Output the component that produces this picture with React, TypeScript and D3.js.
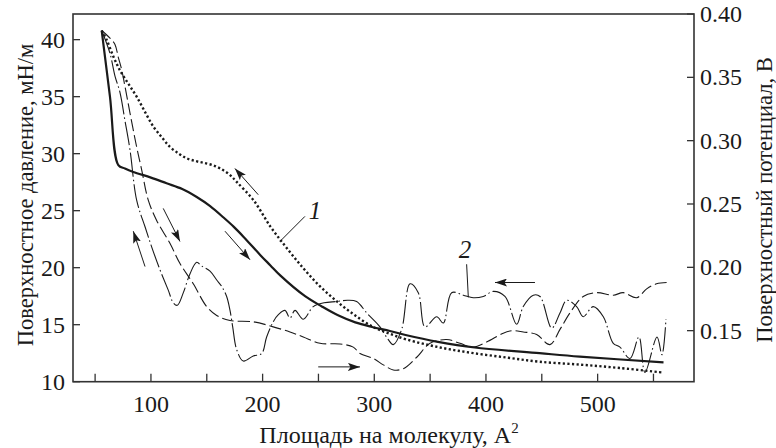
import React from "react";
import * as d3 from "d3";

const W = 776;
const H = 448;
const FONT = '"Liberation Serif", serif';

// axis ticks
const areaTicks = [50, 100, 150, 200, 250, 300, 350, 400, 450, 500, 550];
const areaLabels = [100, 200, 300, 400, 500];
const pressureTicks = [10, 15, 20, 25, 30, 35, 40];
const potentialTicks = [0.15, 0.2, 0.25, 0.3, 0.35, 0.4];

// curve 1, compression isotherm (solid), mN/m
const compArea = [55.9, 63.3, 70.8, 76.7, 84.2, 100, 114, 128, 141, 153, 165, 174, 183, 198, 207, 216, 238, 253, 268, 283, 298, 314, 328, 357, 390, 448, 484, 559];
const compPressure = [40.8, 35.0, 29.0, 28.7, 28.4, 27.9, 27.4, 26.9, 26.2, 25.4, 24.4, 23.6, 22.7, 21.1, 20.2, 19.3, 17.5, 16.6, 15.8, 15.2, 14.8, 14.45, 14.1, 13.5, 13.0, 12.5, 12.2, 11.7];

// curve 1, expansion isotherm (dotted), mN/m
const expArea = [55.9, 60.3, 66, 72.3, 80, 87.2, 95, 102, 110, 117, 125, 132, 140, 147, 155, 162, 170, 177, 192, 207, 221, 236, 251, 267, 283, 299, 314, 329, 359, 389, 420, 448, 484, 520, 559];
const expPressure = [40.8, 40.0, 38.6, 37.3, 36.1, 35.0, 33.6, 32.4, 31.4, 30.6, 30.0, 29.6, 29.35, 29.2, 29.0, 28.7, 28.2, 27.5, 25.9, 23.6, 21.8, 20.0, 18.4, 17.0, 15.8, 14.8, 14.2, 13.7, 13.0, 12.5, 12.1, 11.75, 11.5, 11.2, 10.8];

// curve 2, surface potential (dash-dot), V
const potAArea = [55.9, 63.3, 67.8, 72.3, 76.7, 81.2, 87.2, 94.7, 100.7, 108.1, 115.5, 120.0, 123.6, 129.0, 135.0, 141.0, 145.4, 152.9, 158.9, 163.3, 167.8, 170.8, 173.2, 176.8, 182.7, 191.6, 199.2, 203.6, 209.5, 214.5, 220.0, 224.5, 229.0, 236.4, 245.4, 255, 266.3, 276, 284.2, 293.2, 305.1, 311, 317.0, 324.5, 332.0, 339.4, 345.4, 355.9, 361.8, 369.3, 379.7, 388.6, 397.6, 406.6, 417.0, 427.5, 433.4, 442.4, 448.4, 458.9, 466.3, 472.3, 481.2, 487.1, 496.1, 505.1, 514.0, 520.0, 529.0, 537.0, 542.4, 553.2, 557.6, 561.2];
const potAValue = [0.387, 0.369, 0.351, 0.338, 0.316, 0.293, 0.253, 0.232, 0.216, 0.198, 0.182, 0.172, 0.170, 0.180, 0.195, 0.204, 0.201, 0.197, 0.190, 0.185, 0.177, 0.166, 0.153, 0.135, 0.126, 0.130, 0.132, 0.145, 0.157, 0.163, 0.166, 0.160, 0.166, 0.159, 0.169, 0.172, 0.173, 0.174, 0.173, 0.164, 0.153, 0.145, 0.139, 0.151, 0.187, 0.180, 0.153, 0.161, 0.156, 0.180, 0.178, 0.176, 0.177, 0.181, 0.177, 0.155, 0.169, 0.178, 0.177, 0.152, 0.164, 0.174, 0.169, 0.161, 0.169, 0.161, 0.140, 0.137, 0.128, 0.145, 0.117, 0.145, 0.131, 0.159];

// curve 2, surface potential (dashed), V
const potBArea = [55.9, 63.3, 67.8, 70.7, 73.8, 76.7, 81.2, 87.2, 91.7, 97.6, 105.1, 117.0, 126.0, 137.9, 149.9, 158.9, 170.8, 191.6, 209.5, 224.5, 236.4, 251.4, 269.3, 281.2, 287.2, 299.1, 308.1, 317.0, 326.0, 338.0, 349.9, 364.8, 376.7, 388.6, 400.6, 415.5, 424, 433.4, 445.4, 457.3, 466.3, 475.2, 487.1, 499.1, 514.0, 522.9, 534.9, 543.9, 552.8, 561.8];
const potBValue = [0.387, 0.381, 0.376, 0.366, 0.356, 0.343, 0.322, 0.295, 0.277, 0.253, 0.237, 0.219, 0.203, 0.187, 0.169, 0.162, 0.158, 0.157, 0.153, 0.149, 0.145, 0.140, 0.1395, 0.137, 0.132, 0.128, 0.123, 0.119, 0.120, 0.129, 0.140, 0.143, 0.140, 0.137, 0.141, 0.148, 0.150, 0.149, 0.147, 0.139, 0.151, 0.164, 0.177, 0.180, 0.178, 0.180, 0.176, 0.183, 0.187, 0.188];

// direction arrows [fromArea, fromPressure, toArea, toPressure]
const arrows = [
  [196.1, 26.4, 175.2, 28.7],
  [166.3, 23.2, 188.7, 20.7],
  [111.0, 25.2, 126.0, 22.3],
  [94.7, 20.1, 84.2, 23.2],
  [249.8, 11.3, 287.2, 11.3],
  [443.9, 18.7, 408.1, 18.7],
];

// curve labels: text, label position, leader from, leader to
const curveLabels = [
  { text: "1", at: [246.9, 24.3], from: [237.9, 24.5], to: [215.5, 22.3] },
  { text: "2", at: [381.2, 20.85], from: [382.7, 20.3], to: [384.2, 17.4] },
];

const plot = { left: 73, right: 694, top: 14, bottom: 381.7 };

export default function App() {
  const x = d3.scaleLinear().domain([30.2, 586.3]).range([plot.left, plot.right]);
  const yP = d3.scaleLinear().domain([10, 42.25]).range([plot.bottom, plot.top]);
  const yV = d3.scaleLinear().domain([0.1097, 0.4]).range([plot.bottom, plot.top]);

  const lineP = d3
    .line<number>()
    .curve(d3.curveCatmullRom.alpha(0.5));

  const pathP = (xs: number[], ys: number[]) =>
    lineP.x((_, i) => x(xs[i])).y((_, i) => yP(ys[i]))(xs) || "";
  const pathV = (xs: number[], ys: number[]) =>
    lineP.x((_, i) => x(xs[i])).y((_, i) => yV(ys[i]))(xs) || "";

  const ink = "#1a1a1a";
  const axisInk = "#333";
  const txt = { fontFamily: FONT };
  const fs = 24;
  const titleFs = 22.5;

  return (
    <svg
      width={W}
      height={H}
      style={{ position: "absolute", left: 0, top: 0, background: "#fff" }}
    >
      <defs>
        <marker
          id="head"
          viewBox="0 0 12 8"
          refX={12}
          refY={4}
          markerWidth={12}
          markerHeight={8}
          markerUnits="userSpaceOnUse"
          orient="auto"
        >
          <path d="M0,0 L12,4 L0,8 L2.5,4 Z" fill={ink} />
        </marker>
      </defs>

      {/* curves */}
      <path d={pathV(potBArea, potBValue)} fill="none" stroke={ink} strokeWidth={1.1} strokeDasharray="12 4" />
      <path d={pathV(potAArea, potAValue)} fill="none" stroke={ink} strokeWidth={1.1} strokeDasharray="24 3 1.5 3" />
      <path d={pathP(expArea, expPressure)} fill="none" stroke={ink} strokeWidth={2.4} strokeDasharray="2.2 2.4" />
      <path d={pathP(compArea, compPressure)} fill="none" stroke={ink} strokeWidth={2.2} />

      {/* arrows */}
      {arrows.map((a, i) => (
        <line
          key={i}
          x1={x(a[0])}
          y1={yP(a[1])}
          x2={x(a[2])}
          y2={yP(a[3])}
          stroke={ink}
          strokeWidth={1}
          markerEnd="url(#head)"
        />
      ))}

      {/* curve labels */}
      {curveLabels.map((l) => (
        <g key={l.text}>
          <line x1={x(l.from[0])} y1={yP(l.from[1])} x2={x(l.to[0])} y2={yP(l.to[1])} stroke={ink} strokeWidth={1} />
          <text x={x(l.at[0])} y={yP(l.at[1])} textAnchor="middle" fontSize={25} fontStyle="italic" fill={ink} style={txt}>
            {l.text}
          </text>
        </g>
      ))}

      {/* frame */}
      <rect
        x={plot.left}
        y={plot.top}
        width={plot.right - plot.left}
        height={plot.bottom - plot.top}
        fill="none"
        stroke={axisInk}
        strokeWidth={1.6}
      />

      {/* bottom ticks */}
      {areaTicks.map((t) => (
        <line key={t} x1={x(t)} x2={x(t)} y1={plot.bottom} y2={plot.bottom - 8} stroke={axisInk} strokeWidth={1.3} />
      ))}
      {areaLabels.map((t) => (
        <text key={t} x={x(t)} y={412} textAnchor="middle" fontSize={fs} fill={ink} style={txt}>
          {t}
        </text>
      ))}

      {/* left ticks */}
      {pressureTicks.map((t) => (
        <g key={t}>
          <line x1={plot.left} x2={plot.left + 7} y1={yP(t)} y2={yP(t)} stroke={axisInk} strokeWidth={1.3} />
          <text x={65} y={yP(t) + 8} textAnchor="end" fontSize={fs} fill={ink} style={txt}>
            {t}
          </text>
        </g>
      ))}

      {/* right ticks */}
      {potentialTicks.map((t) => (
        <g key={t}>
          <line x1={plot.right - 7} x2={plot.right} y1={yV(t)} y2={yV(t)} stroke={axisInk} strokeWidth={1.3} />
          <text x={700} y={yV(t) + 8} textAnchor="start" fontSize={fs} fill={ink} style={txt}>
            {d3.format(".2f")(t)}
          </text>
        </g>
      ))}

      {/* axis titles */}
      <text x={389} y={443} textAnchor="middle" fontSize={fs} fill={ink} style={txt}>
        Площадь на молекулу, А
        <tspan dy={-10} fontSize={15}>2</tspan>
      </text>
      <text
        transform={`translate(33, ${195}) rotate(-90)`}
        textAnchor="middle"
        fontSize={titleFs}
        fill={ink}
        style={txt}
      >
        Поверхностное давление, мН/м
      </text>
      <text
        transform={`translate(772, ${200}) rotate(-90)`}
        textAnchor="middle"
        fontSize={titleFs}
        fill={ink}
        style={txt}
      >
        Поверхностный потенциал, В
      </text>
    </svg>
  );
}
